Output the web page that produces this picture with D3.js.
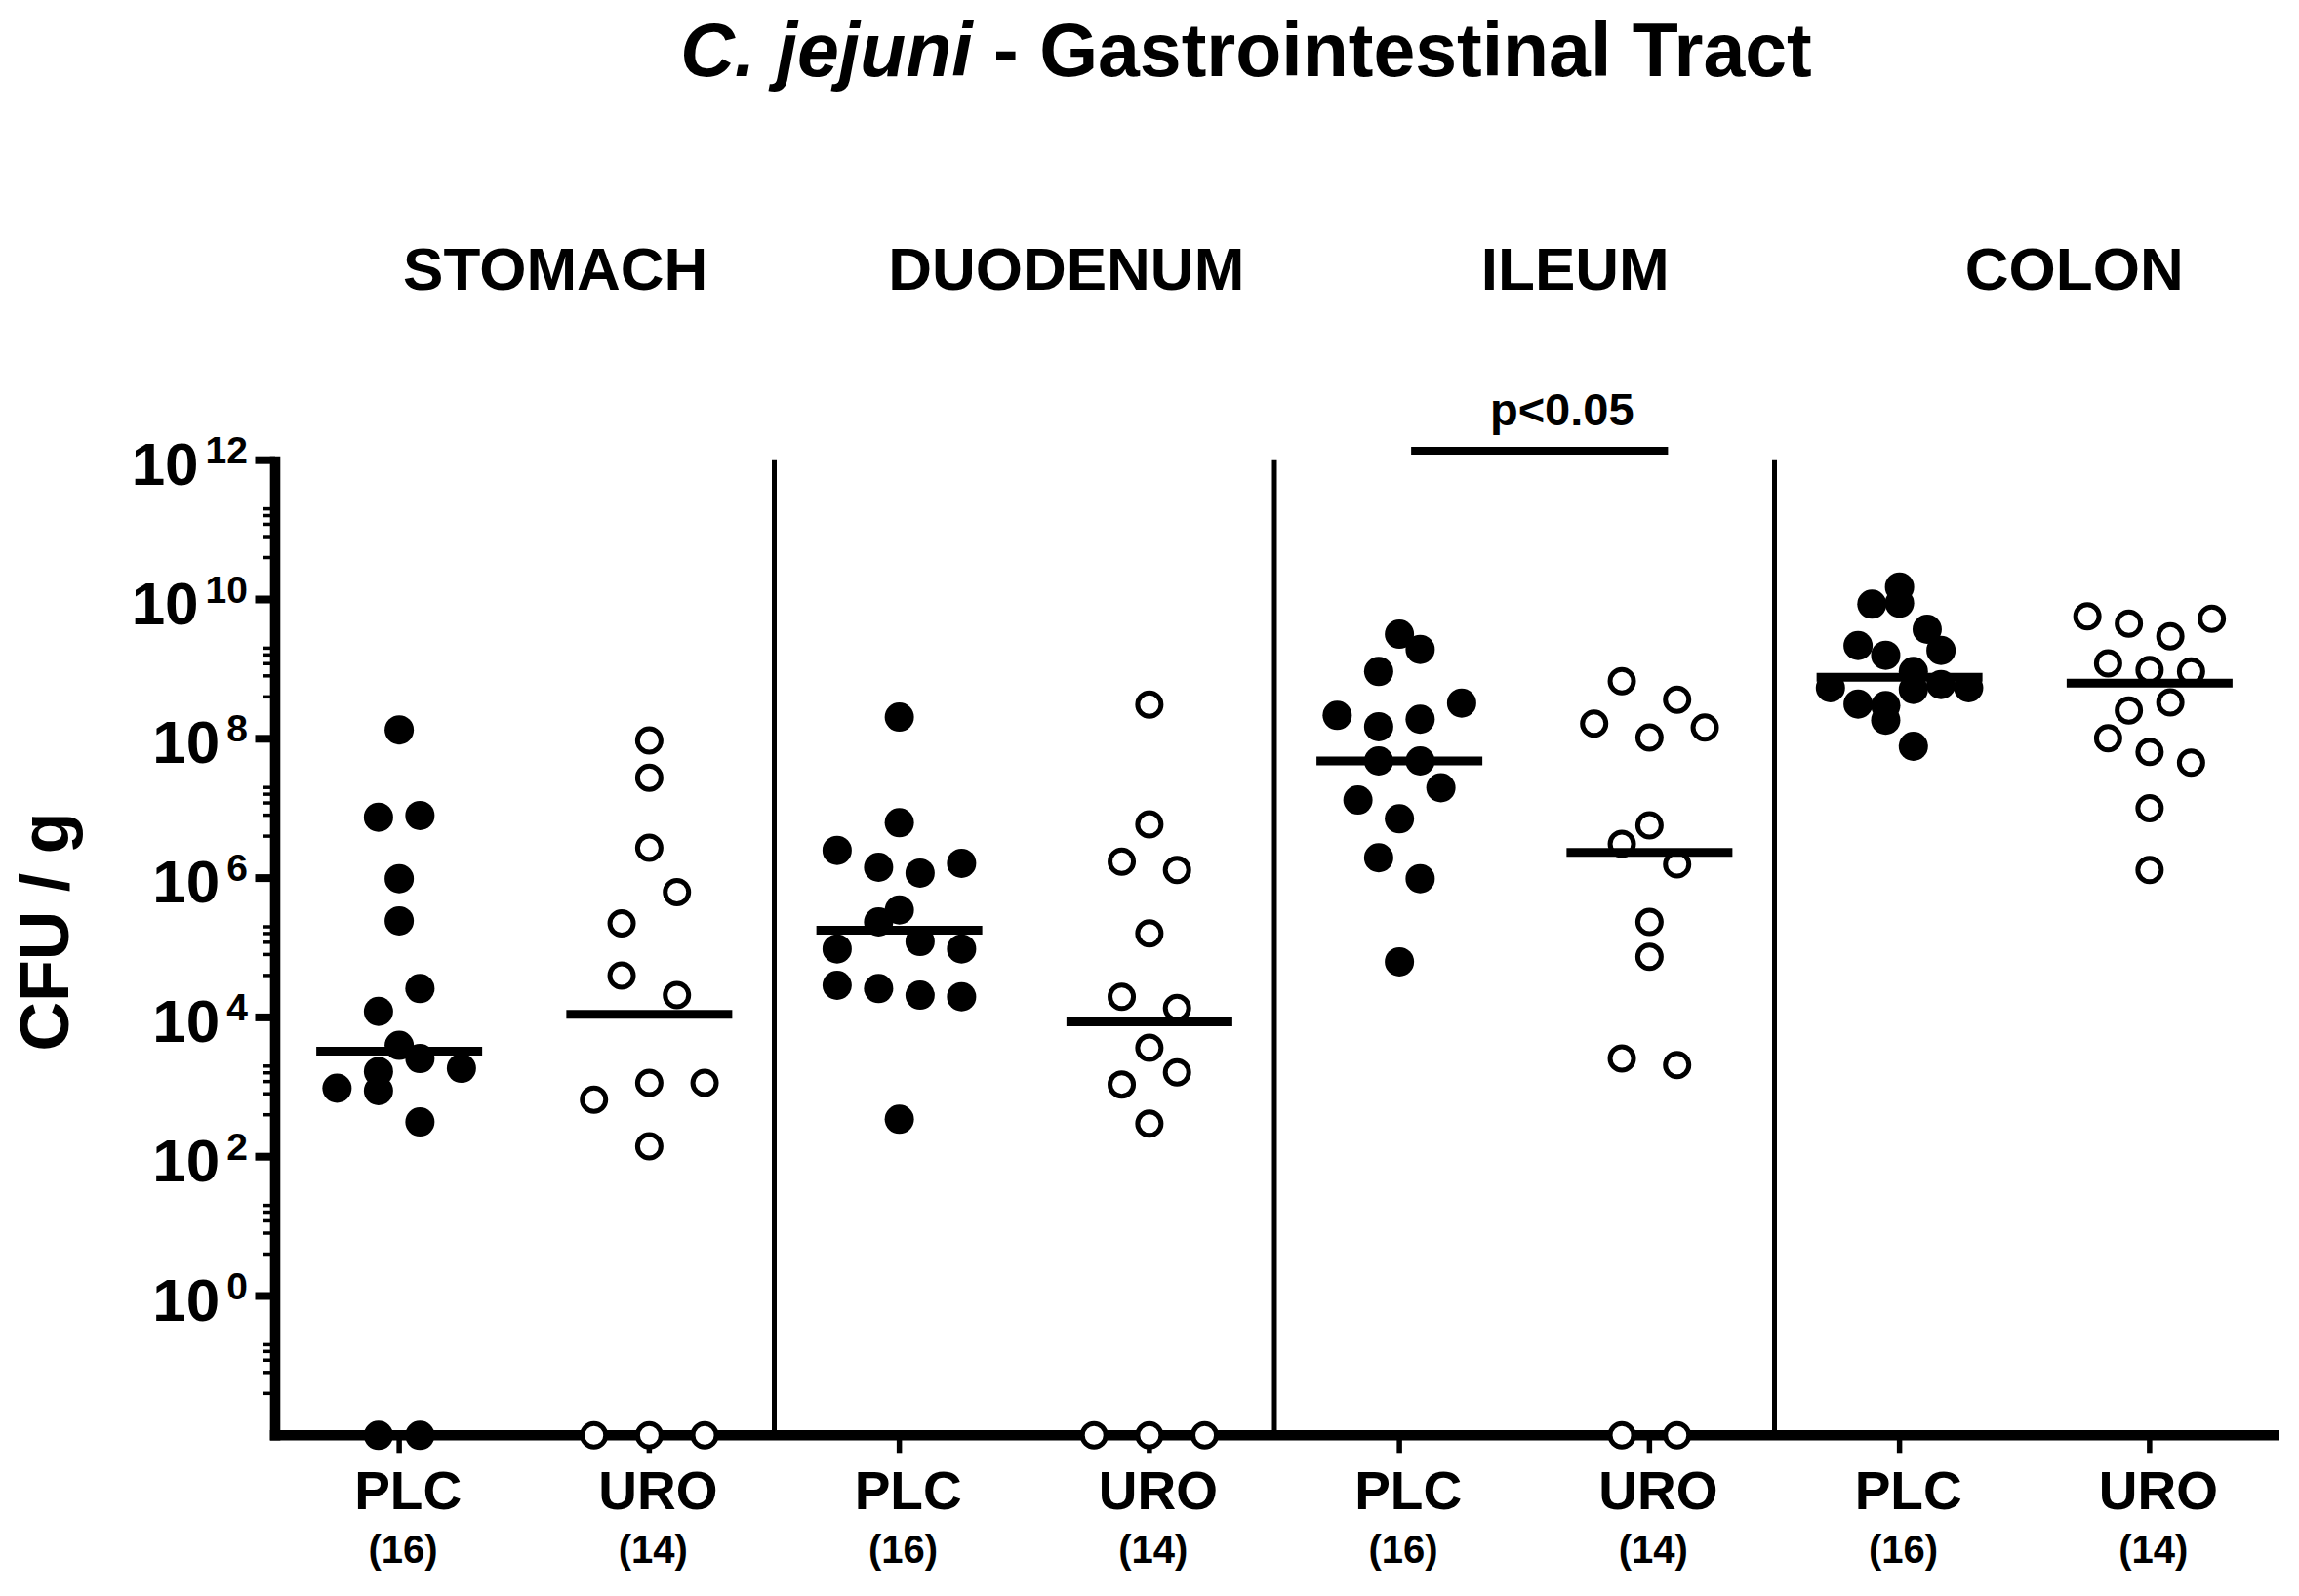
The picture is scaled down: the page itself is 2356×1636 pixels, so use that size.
<!DOCTYPE html>
<html><head><meta charset="utf-8">
<script src="https://cdn.jsdelivr.net/npm/d3@7"></script>
<style>
html,body{margin:0;padding:0;background:#fff;}
svg{display:block;font-family:"Liberation Sans",Arial,Helvetica,sans-serif;font-weight:bold;}
</style></head><body>
<svg id="chart" width="2356" height="1636"></svg>
<script>
// ---------------- data ----------------
const regions = ["STOMACH", "DUODENUM", "ILEUM", "COLON"];
const groups = ["PLC", "URO"];
const groupN = ["(16)", "(14)"];
const majorExponents = [0, 2, 4, 6, 8, 10, 12];
const minorMultipliers = [4, 8, 12, 16, 20];   // x 10^(major-2)
const titleItalic = "C. jejuni";
const titleRest = " - Gastrointestinal Tract";
const yTitle = "CFU / g";
const sigRegion = "ILEUM";
const sigText = "p<0.05";

// CFU/g per animal (0 = none recovered, drawn on the axis)
const stomachPLC  = [1.34e8, 7.48e6, 7.91e6, 9.82e5, 2.43e5, 1.22e4, 2.60e4, 3.97e3, 962, 1.67e3, 2.57e3, 1.86e3, 887, 316, 0, 0];
const stomachURO  = [9.46e7, 2.75e7, 2.73e6, 2.24e5, 6.28e5, 3.99e4, 2.09e4, 658, 1.15e3, 1.15e3, 141, 0, 0, 0];
const duodenumPLC = [2.05e8, 6.25e6, 2.50e6, 1.43e6, 1.18e6, 1.63e6, 3.49e5, 9.62e4, 2.35e5, 1.23e5, 9.62e4, 2.89e4, 2.60e4, 2.09e4, 1.98e4, 345];
const duodenumURO = [3.09e8, 5.91e6, 1.72e6, 1.31e6, 1.61e5, 1.98e4, 1.36e4, 3.66e3, 1.09e3, 1.62e3, 299, 0, 0, 0];
const ileumPLC    = [3.18e9, 9.25e8, 1.92e9, 2.17e8, 1.49e8, 1.91e8, 3.26e8, 4.81e7, 4.81e7, 1.32e7, 7.11e6, 1.98e7, 1.96e6, 9.82e5, 6.27e4];
const ileumURO    = [6.70e8, 3.63e8, 1.65e8, 1.04e8, 1.45e8, 5.73e6, 3.10e6, 1.57e6, 2.35e5, 7.43e4, 2.57e3, 2.07e3, 0, 0];
const colonPLC    = [1.51e10, 8.57e9, 8.85e9, 3.74e9, 2.18e9, 1.58e9, 9.25e8, 1.86e9, 5.40e8, 3.15e8, 2.99e8, 5.11e8, 6.01e8, 5.40e8, 1.85e8, 7.80e7];
const colonURO    = [5.74e9, 4.50e9, 2.96e9, 5.28e9, 1.21e9, 9.75e8, 9.25e8, 2.55e8, 3.33e8, 1.02e8, 6.49e7, 4.55e7, 1.01e7, 1.31e6];

const series = [[stomachPLC, stomachURO], [duodenumPLC, duodenumURO], [ileumPLC, ileumURO], [colonPLC, colonURO]];

// ---------------- layout ----------------
const headerShift = [32, 43, 52, 51];
const R_FILLED = 15, R_OPEN = 12, OPEN_SW = 5;
const MED_W = 170, MED_SW = 9, ROW_GAP = 33.3;
const AXIS_SW = 10.6;

const svg = d3.select("#chart");

const cols = [];
regions.forEach((r, ri) => groups.forEach((g, gi) => cols.push({
  key: r + "|" + g, region: r, ri, group: g, gi, values: series[ri][gi], n: groupN[gi]
})));

const x = d3.scalePoint().domain(cols.map(c => c.key)).range([281, 2331]).padding(0.5);
const y = d3.scaleLog().domain([1e-2, 1e12]).range([1471.3, 471.7]);
const yv = v => v > 0 ? y(v) : y.range()[0];
const axisX = x.range()[0] + 1;
const axisY = y.range()[0];

function swarm(values) {
  const pts = values.map((v, i) => ({ v, i, py: yv(v) }));
  const order = pts.slice().sort((a, b) => (b.py - a.py) || (a.i - b.i));
  const rows = [];
  let k = 0;
  while (k < order.length) {
    const a = order[k], row = [a]; k++;
    while (k < order.length && a.py - order[k].py <= ROW_GAP) { row.push(order[k]); k++; }
    rows.push(row);
  }
  const maxRow = d3.max(rows, r => r.length);
  const step = MED_W / Math.max(maxRow, 3);
  rows.forEach(r => {
    r.sort((a, b) => a.i - b.i);
    r.forEach((p, j) => p.dx = (j - (r.length - 1) / 2) * step);
  });
  return pts;
}

// dividers between regions
const divG = svg.append("g");
regions.forEach((r, ri) => {
  if (ri === 0) return;
  const xd = x(r + "|PLC") - x.step() / 2;
  divG.append("line").attr("x1", xd).attr("x2", xd)
    .attr("y1", y(1e12)).attr("y2", axisY)
    .attr("stroke", "#000").attr("stroke-width", 5);
});

// y axis
const yAx = svg.append("g");
const minorVals = [];
majorExponents.forEach(e => minorMultipliers.forEach(m => {
  const v = m * Math.pow(10, e - 2);
  if (v > 1e-2 && v < 1e12) minorVals.push(v);
}));
yAx.selectAll("line.minor").data(minorVals).join("line").attr("class", "minor")
  .attr("x1", axisX - 12).attr("x2", axisX).attr("y1", d => y(d)).attr("y2", d => y(d))
  .attr("stroke", "#000").attr("stroke-width", 3.5);
yAx.selectAll("line.major").data(majorExponents).join("line").attr("class", "major")
  .attr("x1", axisX - 20.5).attr("x2", axisX).attr("y1", d => y(Math.pow(10, d))).attr("y2", d => y(Math.pow(10, d)))
  .attr("stroke", "#000").attr("stroke-width", 8);
const lbl = yAx.selectAll("text.tl").data(majorExponents).join("text").attr("class", "tl")
  .attr("x", axisX - 28).attr("y", d => y(Math.pow(10, d)) + 25)
  .attr("text-anchor", "end").attr("fill", "#000");
lbl.append("tspan").attr("font-size", 62).text("10");
lbl.append("tspan").attr("font-size", 39).attr("dx", 7).attr("dy", -22).text(d => d);

yAx.append("line").attr("x1", axisX).attr("x2", axisX).attr("y1", y(1e12) - 4).attr("y2", axisY + AXIS_SW / 2)
  .attr("stroke", "#000").attr("stroke-width", AXIS_SW);

// x axis
const xAx = svg.append("g");
xAx.selectAll("line.xt").data(cols).join("line").attr("class", "xt")
  .attr("x1", d => x(d.key)).attr("x2", d => x(d.key)).attr("y1", axisY).attr("y2", axisY + 18)
  .attr("stroke", "#000").attr("stroke-width", 5.5);
xAx.append("line").attr("x1", axisX - AXIS_SW / 2).attr("x2", x.range()[1] + 5).attr("y1", axisY).attr("y2", axisY)
  .attr("stroke", "#000").attr("stroke-width", AXIS_SW);
xAx.selectAll("text.gl").data(cols).join("text").attr("class", "gl")
  .attr("x", d => x(d.key) + 9).attr("y", 1547).attr("text-anchor", "middle")
  .attr("font-size", 55).attr("fill", "#000").text(d => d.group);
xAx.selectAll("text.nl").data(cols).join("text").attr("class", "nl")
  .attr("x", d => x(d.key) + 4).attr("y", 1602).attr("text-anchor", "middle")
  .attr("font-size", 40).attr("fill", "#000").text(d => d.n);

// points
const ptG = svg.append("g");
cols.forEach(c => {
  const pts = swarm(c.values);
  const cx = x(c.key);
  const open = c.gi === 1;
  ptG.append("g").selectAll("circle").data(pts).join("circle")
    .attr("cx", d => cx + d.dx).attr("cy", d => d.py)
    .attr("r", open ? R_OPEN : R_FILLED)
    .attr("fill", open ? "#fff" : "#000")
    .attr("stroke", open ? "#000" : "none")
    .attr("stroke-width", open ? OPEN_SW : 0);
});

// medians
svg.append("g").selectAll("line").data(cols).join("line")
  .attr("x1", d => x(d.key) - MED_W / 2).attr("x2", d => x(d.key) + MED_W / 2)
  .attr("y1", d => yv(d3.median(d.values))).attr("y2", d => yv(d3.median(d.values)))
  .attr("stroke", "#000").attr("stroke-width", MED_SW);

// region headers
svg.append("g").selectAll("text").data(regions).join("text")
  .attr("x", (d, i) => (x(d + "|PLC") + x(d + "|URO")) / 2 + headerShift[i])
  .attr("y", 297).attr("text-anchor", "middle").attr("font-size", 62).attr("fill", "#000").text(d => d);

// significance bracket
const bx1 = x(sigRegion + "|PLC") + 12, bx2 = x(sigRegion + "|URO") + 19;
svg.append("line").attr("x1", bx1).attr("x2", bx2).attr("y1", 462).attr("y2", 462)
  .attr("stroke", "#000").attr("stroke-width", 8);
svg.append("text").attr("x", (bx1 + bx2) / 2 + 23).attr("y", 436).attr("text-anchor", "middle")
  .attr("font-size", 47).attr("fill", "#000").text(sigText);

// y title
svg.append("text").attr("transform", "translate(70,955) rotate(-90)")
  .attr("text-anchor", "middle").attr("font-size", 70).attr("fill", "#000").text(yTitle);

// title
const t = svg.append("text").attr("x", 1277).attr("y", 78).attr("text-anchor", "middle")
  .attr("font-size", 77).attr("fill", "#000");
t.append("tspan").attr("font-style", "italic").text(titleItalic);
t.append("tspan").text(titleRest);
</script>
</body></html>
